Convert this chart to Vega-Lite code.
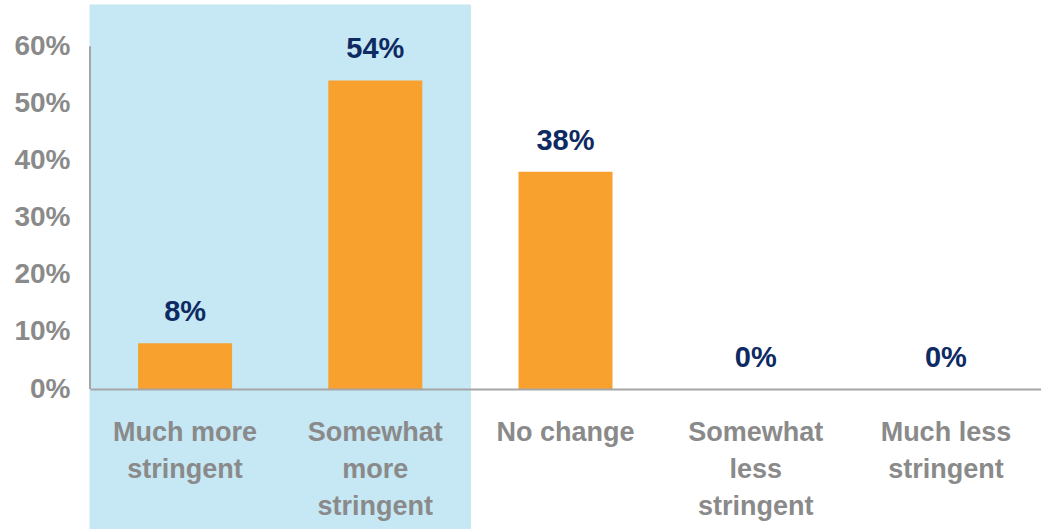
{
  "$schema": "https://vega.github.io/schema/vega-lite/v6.json",
  "width": 951,
  "height": 384,
  "autosize": {"type": "none"},
  "padding": {"left": 90, "top": 5, "right": 0, "bottom": 140},
  "background": "white",
  "config": {"view": {"stroke": null}, "font": "Liberation Sans"},
  "datasets": {
    "bars": [
      {"cat": "Much more stringent", "value": 0.08},
      {"cat": "Somewhat more stringent", "value": 0.54},
      {"cat": "No change", "value": 0.38},
      {"cat": "Somewhat less stringent", "value": 0},
      {"cat": "Much less stringent", "value": 0}
    ],
    "shade": [
      {"cat": "Much more stringent", "lo": -0.26, "hi": 0.672},
      {"cat": "Somewhat more stringent", "lo": -0.26, "hi": 0.672}
    ],
    "axisline": [
      {"cat": "Much more stringent", "lo": 0, "hi": 0.6}
    ]
  },
  "encoding": {
    "x": {
      "field": "cat",
      "type": "nominal",
      "sort": null,
      "scale": {
        "domain": ["Much more stringent", "Somewhat more stringent", "No change", "Somewhat less stringent", "Much less stringent"],
        "paddingInner": 0,
        "paddingOuter": 0
      },
      "axis": {
        "title": null,
        "labelAngle": 0,
        "ticks": false,
        "domainColor": "#A6A6A6",
        "domainWidth": 2,
        "labelFont": "Liberation Sans",
        "labelFontSize": 27,
        "labelFontWeight": "bold",
        "labelColor": "#8A8A8A",
        "labelPadding": 30,
        "labelLineHeight": 37,
        "labelLimit": 220,
        "zindex": 1,
        "labelExpr": "datum.value == 'Much more stringent' ? ['Much more', 'stringent'] : datum.value == 'Somewhat more stringent' ? ['Somewhat', 'more', 'stringent'] : datum.value == 'Somewhat less stringent' ? ['Somewhat', 'less', 'stringent'] : datum.value == 'Much less stringent' ? ['Much less', 'stringent'] : datum.value"
      }
    }
  },
  "layer": [
    {
      "data": {"name": "shade"},
      "mark": {"type": "bar", "color": "#C6E7F4", "stroke": "#C6E7F4", "strokeWidth": 1, "width": {"band": 1}, "clip": false},
      "encoding": {
        "y": {
          "field": "lo",
          "type": "quantitative",
          "scale": {"domain": [0, 0.672], "nice": false, "zero": false},
          "axis": {
            "title": null,
            "values": [0, 0.1, 0.2, 0.3, 0.4, 0.5, 0.6],
            "format": ".0%",
            "ticks": false,
            "domain": false,
            "grid": false,
            "labelFont": "Liberation Sans",
            "labelFontSize": 28,
            "labelFontWeight": "bold",
            "labelColor": "#8A8A8A",
            "labelPadding": 20
          }
        },
        "y2": {"field": "hi"}
      }
    },
    {
      "data": {"name": "axisline"},
      "mark": {"type": "rule", "color": "#A6A6A6", "strokeWidth": 2},
      "encoding": {
        "x": {"field": "cat", "type": "nominal", "bandPosition": 0},
        "y": {"field": "lo", "type": "quantitative"},
        "y2": {"field": "hi"}
      }
    },
    {
      "data": {"name": "bars"},
      "mark": {"type": "bar", "color": "#F8A12F", "width": 94},
      "encoding": {
        "y": {"field": "value", "type": "quantitative"}
      }
    },
    {
      "data": {"name": "bars"},
      "mark": {"type": "text", "baseline": "alphabetic", "dy": -22, "fontSize": 29, "fontWeight": "bold", "color": "#0E2A62", "font": "Liberation Sans"},
      "encoding": {
        "y": {"field": "value", "type": "quantitative"},
        "text": {"field": "value", "type": "quantitative", "format": ".0%"}
      }
    }
  ]
}
